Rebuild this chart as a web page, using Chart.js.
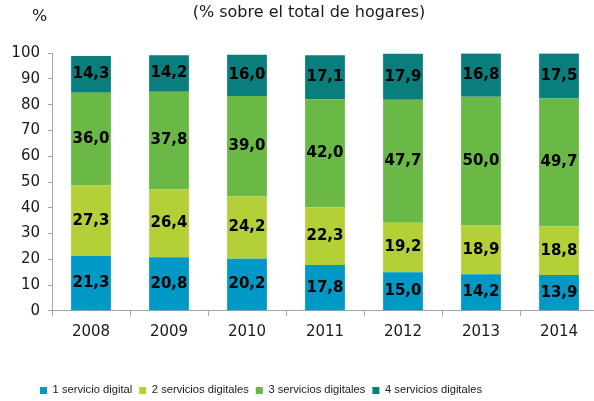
<!DOCTYPE html>
<html>
<head>
<meta charset="utf-8">
<script src="https://cdn.jsdelivr.net/npm/chart.js@4"></script>
<style>
  html, body { margin: 0; padding: 0; background: #fff; overflow: hidden; }
  #wrap { width: 600px; height: 401px; position: relative; }
</style>
</head>
<body>
<div id="wrap"><canvas id="chart"></canvas></div>
<script>
// Data
const years = ['2008', '2009', '2010', '2011', '2012', '2013', '2014'];
const oneService = [21.3, 20.8, 20.2, 17.8, 15.0, 14.2, 13.9];
const twoServices = [27.3, 26.4, 24.2, 22.3, 19.2, 18.9, 18.8];
const threeServices = [36.0, 37.8, 39.0, 42.0, 47.7, 50.0, 49.7];
const fourServices = [14.3, 14.2, 16.0, 17.1, 17.9, 16.8, 17.5];
const yTicks = [0, 10, 20, 30, 40, 50, 60, 70, 80, 90, 100];

const axisColor = '#a6a6a6';
const mainFont = 'DejaVu Sans';

// Values in the bars, centred in each segment
const barLabels = {
  id: 'barLabels',
  afterDatasetsDraw(chart) {
    const ctx = chart.ctx;
    ctx.save();
    ctx.font = 'bold 15px "' + mainFont + '"';
    ctx.fillStyle = '#000';
    ctx.textAlign = 'center';
    ctx.textBaseline = 'middle';
    chart.data.datasets.forEach((ds, i) => {
      const meta = chart.getDatasetMeta(i);
      meta.data.forEach((bar, j) => {
        const p = bar.getProps(['x', 'y', 'base'], true);
        ctx.fillText(ds.data[j].toFixed(1).replace('.', ','), p.x, (p.y + p.base) / 2);
      });
    });
    ctx.restore();
  }
};

// "%" unit at the top left, and nudges for title / legend
const extras = {
  id: 'extras',
  afterLayout(chart) {
    const t = chart.titleBlock;
    t.left += 10; t.right += 10;
    const lg = chart.legend;
    const shift = 261 - (lg.left + lg.right) / 2;
    lg.left += shift; lg.right += shift;
    lg.top += 7; lg.bottom += 7;
  },
  afterDraw(chart) {
    const ctx = chart.ctx;
    ctx.save();
    ctx.font = '16px "' + mainFont + '"';
    ctx.fillStyle = '#1a1a1a';
    ctx.textAlign = 'left';
    ctx.textBaseline = 'middle';
    ctx.fillText('%', 32, 17);
    ctx.restore();
  }
};

new Chart(document.getElementById('chart'), {
  type: 'bar',
  data: {
    labels: years,
    datasets: [
      { label: '1 servicio digital', data: oneService, backgroundColor: '#0099c6' },
      { label: '2 servicios digitales', data: twoServices, backgroundColor: '#b3d136' },
      { label: '3 servicios digitales', data: threeServices, backgroundColor: '#6ab845' },
      { label: '4 servicios digitales', data: fourServices, backgroundColor: '#0a7e7c' }
    ]
  },
  options: {
    responsive: true,
    maintainAspectRatio: false,
    animation: false,
    layout: { padding: { left: 0, right: 2, top: 0, bottom: 2 } },
    datasets: { bar: { categoryPercentage: 1, barPercentage: 0.51 } },
    scales: {
      x: {
        stacked: true,
        grid: { drawOnChartArea: false, drawTicks: true, tickLength: 5, color: axisColor },
        border: { color: axisColor },
        ticks: { color: '#1a1a1a', padding: 7, font: { family: mainFont, size: 15 } },
        afterFit(scale) { scale.height = 60; }
      },
      y: {
        stacked: true,
        min: 0,
        max: 100,
        afterBuildTicks(scale) { scale.ticks = yTicks.map(v => ({ value: v })); },
        grid: { drawOnChartArea: false, drawTicks: true, tickLength: 4, color: axisColor },
        border: { color: axisColor },
        ticks: { color: '#1a1a1a', padding: 8, font: { family: mainFont, size: 15 } },
        afterFit(scale) { scale.width = 52; }
      }
    },
    plugins: {
      title: {
        display: true,
        text: '(% sobre el total de hogares)',
        color: '#1a1a1a',
        font: { family: mainFont, size: 16, weight: 'normal' },
        padding: { top: 3, bottom: 31 }
      },
      legend: {
        position: 'bottom',
        labels: {
          boxWidth: 7,
          boxHeight: 7,
          padding: 7,
          color: '#1a1a1a',
          font: { family: 'Liberation Sans', size: 11.2 }
        }
      },
      tooltip: { enabled: false }
    }
  },
  plugins: [barLabels, extras]
});
</script>
</body>
</html>
